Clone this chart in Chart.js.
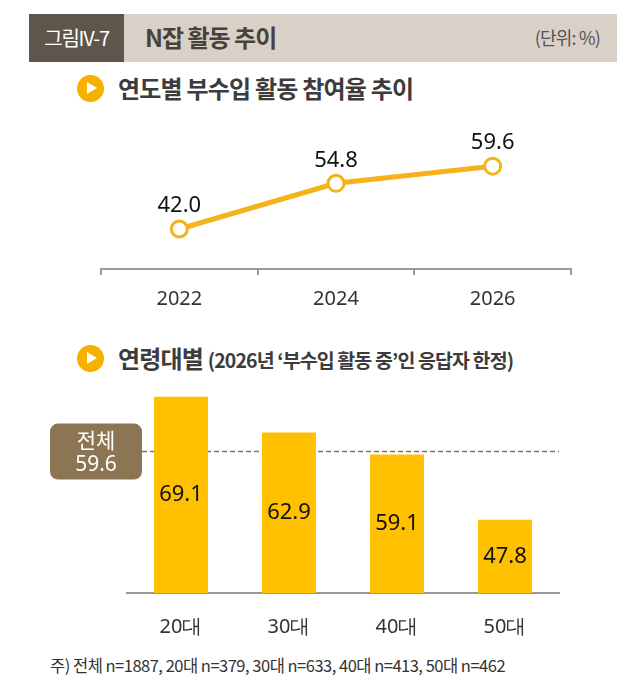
<!DOCTYPE html>
<html><head><meta charset="utf-8">
<script src="https://cdn.jsdelivr.net/npm/chart.js@4"></script>
<style>
html,body{margin:0;padding:0;background:#fff;width:637px;height:693px;overflow:hidden;font-family:"Noto Sans CJK KR","Noto Sans",sans-serif;}
.abs{position:absolute;}
#hdrDark{left:29px;top:14px;width:95px;height:48px;background:#5f554b;color:#fff;font-size:20px;line-height:47px;text-align:center;letter-spacing:-1.2px;}
#hdrBand{left:124px;top:14px;width:493px;height:48px;background:#d9d1c8;}
#hdrTitle{left:145px;top:14px;line-height:46px;font-size:24px;font-weight:bold;color:#4a423a;letter-spacing:-1px;}
#unit{left:490px;top:14px;width:110px;text-align:right;line-height:46px;font-size:18px;color:#555;letter-spacing:-0.8px;}
.bullet{width:27px;height:27px;border-radius:50%;background:#f5b000;}
.bullet:after{content:"";position:absolute;left:10px;top:7px;border-left:10px solid #fff;border-top:6.5px solid transparent;border-bottom:6.5px solid transparent;}
.sub{font-size:24px;font-weight:bold;color:#3c3c3c;letter-spacing:-0.8px;line-height:30px;}
.sub small{font-size:19.5px;letter-spacing:-0.9px;}
#note{left:50px;top:654px;font-size:16.5px;color:#333;letter-spacing:-0.5px;line-height:22px;}
canvas{position:absolute;}
</style></head>
<body>
<div id="hdrBand" class="abs"></div>
<div id="hdrDark" class="abs">그림IV-7</div>
<div id="hdrTitle" class="abs">N잡 활동 추이</div>
<div id="unit" class="abs">(단위: %)</div>
<div class="abs bullet" style="left:77px;top:75px;"></div>
<div class="abs sub" style="left:118px;top:73px;">연도별 부수입 활동 참여율 추이</div>
<div class="abs bullet" style="left:77px;top:345px;"></div>
<div class="abs sub" style="left:118px;top:343px;">연령대별 <small>(2026년 ‘부수입 활동 중’인 응답자 한정)</small></div>
<div id="note" class="abs">주) 전체 n=1887, 20대 n=379, 30대 n=633, 40대 n=413, 50대 n=462</div>
<div class="abs" style="left:0;top:103px;width:637px;height:225px;"><canvas id="c1" width="637" height="225"></canvas></div>
<div class="abs" style="left:0;top:362px;width:637px;height:301px;"><canvas id="c2" width="637" height="301"></canvas></div>
<script>
const years = ['2022','2024','2026'];
const yearValues = [42.0, 54.8, 59.6];
const ageGroups = ['20대','30대','40대','50대'];
const ageValues = [69.1, 62.9, 59.1, 47.8];
const overallLabel = '전체';
const overallValue = 59.6;

const numFont = '"Noto Sans", "DejaVu Sans", sans-serif';

const lineLabels = {
  id:'lineLabels',
  afterDatasetsDraw(chart){
    const ctx = chart.ctx;
    const meta = chart.getDatasetMeta(0);
    ctx.save();
    ctx.font = '22px ' + numFont;
    ctx.fillStyle = '#111';
    ctx.textAlign = 'center';
    ctx.textBaseline = 'middle';
    meta.data.forEach((pt,i)=>{
      ctx.fillText(yearValues[i].toFixed(1), pt.x, pt.y - 23);
    });
    ctx.restore();
  }
};

new Chart(document.getElementById('c1'), {
  type:'line',
  data:{labels:years, datasets:[{data:yearValues, borderColor:'#f4b31b', borderWidth:5,
    pointRadius:8, pointBackgroundColor:'#fff', pointBorderColor:'#f4b31b', pointBorderWidth:3, tension:0}]},
  options:{
    responsive:false, animation:false,
    layout:{padding:{left:101,right:66,top:16,bottom:5}},
    plugins:{legend:{display:false},tooltip:{enabled:false}},
    scales:{
      y:{display:false,min:30.8,max:72.8},
      x:{offset:true,
        grid:{offset:true,drawOnChartArea:false,drawTicks:true,tickLength:6,color:'#9a9a9a',lineWidth:2},
        border:{display:true,color:'#9a9a9a',width:2},
        ticks:{color:'#333',font:{family:numFont,size:20},padding:12}}
    }
  },
  plugins:[lineLabels]
});

const barExtras = {
  id:'barExtras',
  beforeDatasetsDraw(chart){
    const ctx = chart.ctx;
    const y = chart.scales.y.getPixelForValue(overallValue);
    ctx.save();
    ctx.strokeStyle = '#8a7658';
    ctx.lineWidth = 1.5;
    ctx.setLineDash([5,3]);
    ctx.beginPath();
    ctx.moveTo(142, y);
    ctx.lineTo(559, y);
    ctx.stroke();
    ctx.restore();
  },
  afterDatasetsDraw(chart){
    const ctx = chart.ctx;
    const y = chart.scales.y.getPixelForValue(overallValue);
    const bottom = chart.chartArea.bottom;
    const meta = chart.getDatasetMeta(0);
    ctx.save();
    ctx.font = '22px ' + numFont;
    ctx.fillStyle = '#111';
    ctx.textAlign = 'center';
    ctx.textBaseline = 'middle';
    meta.data.forEach((b,i)=>{
      ctx.fillText(ageValues[i].toFixed(1), b.x, (b.y + bottom)/2);
    });
    // overall box
    const bx=50, bw=92, bh=56, by=y-bh/2, r=8;
    ctx.fillStyle = '#8c7553';
    ctx.beginPath();
    ctx.roundRect(bx,by,bw,bh,r);
    ctx.fill();
    ctx.fillStyle = '#fff';
    ctx.font = '21px "Noto Sans CJK KR", sans-serif';
    ctx.fillText(overallLabel, bx+bw/2, by+16);
    ctx.font = '21px ' + numFont;
    ctx.fillText(overallValue.toFixed(1), bx+bw/2, by+41);
    ctx.restore();
  }
};

new Chart(document.getElementById('c2'), {
  type:'bar',
  data:{labels:ageGroups, datasets:[{data:ageValues, backgroundColor:'#ffc000', categoryPercentage:1, barPercentage:0.5}]},
  options:{
    responsive:false, animation:false,
    layout:{padding:{left:127,right:78,top:18,bottom:10}},
    plugins:{legend:{display:false},tooltip:{enabled:false}},
    scales:{
      y:{display:false,min:35.1,max:72},
      x:{grid:{display:false},
        border:{display:true,color:'#9a9a9a',width:2},
        ticks:{color:'#333',font:{family:numFont,size:20},padding:14}}
    }
  },
  plugins:[barExtras]
});
</script>
</body></html>
